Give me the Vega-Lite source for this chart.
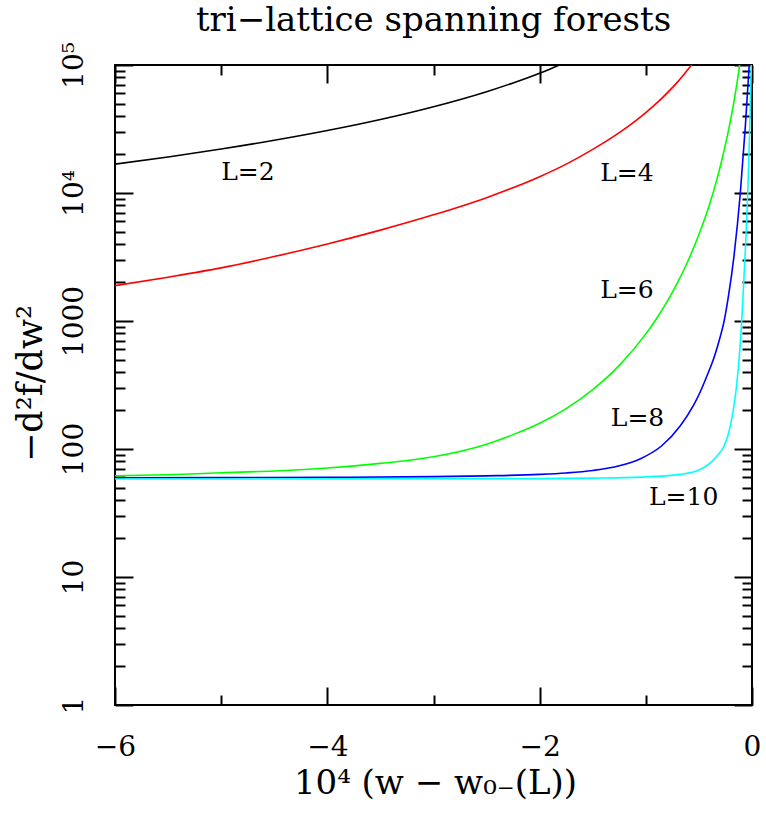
{
  "$schema": "https://vega.github.io/schema/vega-lite/v6.json",
  "width": 637,
  "height": 640,
  "autosize": "none",
  "padding": {"left": 115, "top": 65, "right": 14, "bottom": 111},
  "background": "white",
  "title": {
    "text": "tri−lattice spanning forests",
    "font": "DejaVu Serif",
    "fontSize": 34,
    "fontWeight": "normal",
    "color": "black",
    "anchor": "middle",
    "frame": "group",
    "baseline": "alphabetic",
    "offset": -23
  },
  "config": {
    "view": {"stroke": "black", "strokeWidth": 2},
    "axis": {
      "labelFont": "DejaVu Serif",
      "titleFont": "DejaVu Serif",
      "titleFontWeight": "normal",
      "labelColor": "black",
      "titleColor": "black",
      "tickColor": "black",
      "tickWidth": 2,
      "domain": false,
      "grid": false,
      "labelOverlap": false,
      "labelFlush": false,
      "labelBound": false
    }
  },
  "data": {
    "values": [
      {"L": "2", "x": -6, "y": 16800},
      {"L": "2", "x": -5.5, "y": 19130},
      {"L": "2", "x": -5, "y": 22050},
      {"L": "2", "x": -4.5, "y": 25800},
      {"L": "2", "x": -4, "y": 30750},
      {"L": "2", "x": -3.5, "y": 37500},
      {"L": "2", "x": -3, "y": 47200},
      {"L": "2", "x": -2.5, "y": 61900},
      {"L": "2", "x": -2.25, "y": 72460},
      {"L": "2", "x": -2, "y": 86370},
      {"L": "2", "x": -1.9, "y": 93240},
      {"L": "2", "x": -1.814, "y": 100000},
      {"L": "4", "x": -6, "y": 1890},
      {"L": "4", "x": -5.5, "y": 2200},
      {"L": "4", "x": -5, "y": 2600},
      {"L": "4", "x": -4.5, "y": 3190},
      {"L": "4", "x": -4, "y": 4000},
      {"L": "4", "x": -3.5, "y": 5130},
      {"L": "4", "x": -3, "y": 6750},
      {"L": "4", "x": -2.5, "y": 9200},
      {"L": "4", "x": -2, "y": 13400},
      {"L": "4", "x": -1.75, "y": 16800},
      {"L": "4", "x": -1.5, "y": 21900},
      {"L": "4", "x": -1.25, "y": 29600},
      {"L": "4", "x": -1, "y": 42500},
      {"L": "4", "x": -0.85, "y": 54900},
      {"L": "4", "x": -0.7, "y": 73800},
      {"L": "4", "x": -0.57, "y": 100000},
      {"L": "6", "x": -6, "y": 61.8},
      {"L": "6", "x": -5.5, "y": 63},
      {"L": "6", "x": -5, "y": 65.2},
      {"L": "6", "x": -4.5, "y": 67.4},
      {"L": "6", "x": -4, "y": 71},
      {"L": "6", "x": -3.5, "y": 77.2},
      {"L": "6", "x": -3, "y": 87},
      {"L": "6", "x": -2.5, "y": 109},
      {"L": "6", "x": -2.25, "y": 129.5},
      {"L": "6", "x": -2, "y": 159},
      {"L": "6", "x": -1.75, "y": 207},
      {"L": "6", "x": -1.5, "y": 291},
      {"L": "6", "x": -1.25, "y": 450},
      {"L": "6", "x": -1, "y": 793},
      {"L": "6", "x": -0.9, "y": 1042},
      {"L": "6", "x": -0.8, "y": 1417},
      {"L": "6", "x": -0.7, "y": 2004},
      {"L": "6", "x": -0.6, "y": 2983},
      {"L": "6", "x": -0.5, "y": 4735},
      {"L": "6", "x": -0.4, "y": 8133},
      {"L": "6", "x": -0.33, "y": 12830},
      {"L": "6", "x": -0.28, "y": 18680},
      {"L": "6", "x": -0.23, "y": 28430},
      {"L": "6", "x": -0.19, "y": 41870},
      {"L": "6", "x": -0.16, "y": 58000},
      {"L": "6", "x": -0.135, "y": 78260},
      {"L": "6", "x": -0.116, "y": 100000},
      {"L": "8", "x": -6, "y": 59.7},
      {"L": "8", "x": -5, "y": 59.8},
      {"L": "8", "x": -4, "y": 60.1},
      {"L": "8", "x": -3, "y": 60.8},
      {"L": "8", "x": -2.5, "y": 61.7},
      {"L": "8", "x": -2, "y": 63.3},
      {"L": "8", "x": -1.75, "y": 65},
      {"L": "8", "x": -1.5, "y": 68},
      {"L": "8", "x": -1.25, "y": 74},
      {"L": "8", "x": -1.05, "y": 84},
      {"L": "8", "x": -0.85, "y": 106},
      {"L": "8", "x": -0.675, "y": 152},
      {"L": "8", "x": -0.55, "y": 220},
      {"L": "8", "x": -0.487, "y": 280},
      {"L": "8", "x": -0.42, "y": 380},
      {"L": "8", "x": -0.355, "y": 526},
      {"L": "8", "x": -0.3, "y": 750},
      {"L": "8", "x": -0.267, "y": 960},
      {"L": "8", "x": -0.22, "y": 1600},
      {"L": "8", "x": -0.17, "y": 3200},
      {"L": "8", "x": -0.11, "y": 10000},
      {"L": "8", "x": -0.063, "y": 33000},
      {"L": "8", "x": -0.026, "y": 100000},
      {"L": "10", "x": -6, "y": 58.3},
      {"L": "10", "x": -4, "y": 58.4},
      {"L": "10", "x": -2, "y": 58.7},
      {"L": "10", "x": -1.5, "y": 59.2},
      {"L": "10", "x": -1.05, "y": 60.3},
      {"L": "10", "x": -0.74, "y": 62.5},
      {"L": "10", "x": -0.53, "y": 67},
      {"L": "10", "x": -0.45, "y": 72},
      {"L": "10", "x": -0.376, "y": 80},
      {"L": "10", "x": -0.32, "y": 90},
      {"L": "10", "x": -0.267, "y": 104},
      {"L": "10", "x": -0.23, "y": 125},
      {"L": "10", "x": -0.2, "y": 158},
      {"L": "10", "x": -0.175, "y": 205},
      {"L": "10", "x": -0.15, "y": 289},
      {"L": "10", "x": -0.12, "y": 526},
      {"L": "10", "x": -0.1, "y": 900},
      {"L": "10", "x": -0.084, "y": 1600},
      {"L": "10", "x": -0.06, "y": 4000},
      {"L": "10", "x": -0.04, "y": 10000},
      {"L": "10", "x": -0.02, "y": 35000},
      {"L": "10", "x": -0.006, "y": 100000}
    ]
  },
  "layer": [
    {
      "mark": {"type": "line", "strokeWidth": 1.6, "clip": true, "interpolate": "monotone"},
      "encoding": {
        "x": {
          "field": "x", "type": "quantitative",
          "scale": {"domain": [-6, 0], "nice": false, "zero": false},
          "axis": {
            "orient": "bottom",
            "values": [-6, -5, -4, -3, -2, -1, 0],
            "tickSize": {"condition": {"test": "datum.value % 2 == 0", "value": -18}, "value": -10},
            "labelExpr": "datum.value % 2 == 0 ? datum.label : ''",
            "labelFontSize": 28,
            "labelPadding": 46,
            "title": "10⁴ (w − w₀₋(L))",
            "titleFontSize": 34,
            "titleX": 320,
            "titleY": 88,
            "titleAlign": "center",
            "titleBaseline": "alphabetic"
          }
        },
        "y": {
          "field": "y", "type": "quantitative",
          "scale": {"type": "log", "domain": [1, 100000], "nice": false},
          "axis": {
            "orient": "left",
            "values": [1,2,3,4,5,6,7,8,9,10,20,30,40,50,60,70,80,90,100,200,300,400,500,600,700,800,900,1000,2000,3000,4000,5000,6000,7000,8000,9000,10000,20000,30000,40000,50000,60000,70000,80000,90000,100000],
            "tickSize": {"condition": {"test": "abs(log(datum.value)/LN10 - round(log(datum.value)/LN10)) < 0.001", "value": -18}, "value": -10},
            "labelExpr": "datum.value == 1 ? '1' : datum.value == 10 ? '10' : datum.value == 100 ? '100' : datum.value == 1000 ? '1000' : datum.value == 10000 ? '10⁴' : datum.value == 100000 ? '10⁵' : ''",
            "labelFontSize": 28,
            "labelAngle": -90,
            "labelAlign": "center",
            "labelBaseline": "alphabetic",
            "labelPadding": 51,
            "title": "−d²f/dw²",
            "titleFontSize": 35,
            "titleAngle": -90,
            "titleX": -74,
            "titleY": 318,
            "titleAlign": "center",
            "titleBaseline": "alphabetic"
          }
        },
        "color": {
          "field": "L", "type": "nominal",
          "scale": {"domain": ["2", "4", "6", "8", "10"], "range": ["#000000", "#ff0000", "#00ff00", "#0000ff", "#00ffff"]},
          "legend": null
        }
      }
    },
    {
      "mark": {"type": "line", "strokeOpacity": 0, "clip": true},
      "encoding": {
        "x": {
          "field": "x", "type": "quantitative",
          "axis": {
            "orient": "top",
            "values": [-6, -5, -4, -3, -2, -1, 0],
            "tickSize": {"condition": {"test": "datum.value % 2 == 0", "value": -18}, "value": -10},
            "labels": false,
            "title": null
          }
        },
        "y": {
          "field": "y", "type": "quantitative",
          "axis": {
            "orient": "right",
            "values": [1,2,3,4,5,6,7,8,9,10,20,30,40,50,60,70,80,90,100,200,300,400,500,600,700,800,900,1000,2000,3000,4000,5000,6000,7000,8000,9000,10000,20000,30000,40000,50000,60000,70000,80000,90000,100000],
            "tickSize": {"condition": {"test": "abs(log(datum.value)/LN10 - round(log(datum.value)/LN10)) < 0.001", "value": -18}, "value": -10},
            "labels": false,
            "title": null
          }
        },
        "detail": {"field": "L", "type": "nominal"}
      }
    },
    {
      "data": {
        "values": [
          {"label": "L=2", "x": -4.748, "y": 14650},
          {"label": "L=4", "x": -1.178, "y": 14250},
          {"label": "L=6", "x": -1.178, "y": 1746},
          {"label": "L=8", "x": -1.078, "y": 175},
          {"label": "L=10", "x": -0.644, "y": 42.4}
        ]
      },
      "mark": {"type": "text", "font": "DejaVu Serif", "fontSize": 25, "align": "center", "baseline": "middle", "color": "black"},
      "encoding": {
        "x": {"field": "x", "type": "quantitative", "axis": null},
        "y": {"field": "y", "type": "quantitative", "axis": null},
        "text": {"field": "label"}
      }
    }
  ]
}
